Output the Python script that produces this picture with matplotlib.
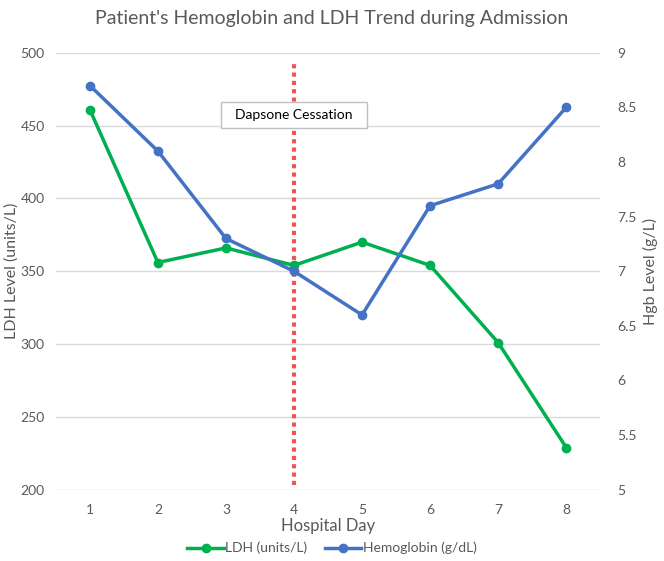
import matplotlib
matplotlib.use("Agg")
import matplotlib.pyplot as plt
from matplotlib.lines import Line2D

plt.rcParams['font.family'] = ['Lato', 'DejaVu Sans']

days = [1, 2, 3, 4, 5, 6, 7, 8]
ldh = [461, 356, 366, 354, 370, 354, 301, 229]
hgb = [8.7, 8.1, 7.3, 7.0, 6.6, 7.6, 7.8, 8.5]
ldh_ticks = [200, 250, 300, 350, 400, 450, 500]
hgb_ticks = [5, 5.5, 6, 6.5, 7, 7.5, 8, 8.5, 9]
hgb_labels = ["5", "5.5", "6", "6.5", "7", "7.5", "8", "8.5", "9"]
cessation_day = 4

GREEN = "#00B050"
BLUE = "#4472C4"
RED = "#EE5555"
TXT = "#595959"
GRID = "#D9D9D9"

fig = plt.figure(figsize=(6.64, 5.61), dpi=100)
ax = fig.add_axes([0.084, 0.127, 0.82, 0.779])
ax2 = ax.twinx()

ax.set_xlim(0.5, 8.5)
ax.set_ylim(200, 500)
ax2.set_ylim(5, 9)

ax.set_yticks(ldh_ticks)
ax.set_xticks(days)
ax2.set_yticks(hgb_ticks)
ax2.set_yticklabels(hgb_labels)

ax.grid(axis='y', color=GRID, linewidth=1)
ax.set_axisbelow(True)
for a in (ax, ax2):
    for s in a.spines.values():
        s.set_visible(False)
    a.tick_params(length=0, labelsize=10, colors=TXT)
ax.tick_params(axis='x', pad=10)
ax.tick_params(axis='y', pad=8)
ax2.tick_params(axis='y', pad=12)

ax.plot(days, ldh, color=GREEN, linewidth=2.5, marker='o', markersize=6, zorder=3)
ax2.plot(days, hgb, color=BLUE, linewidth=2.5, marker='o', markersize=6, zorder=3)

ax.plot([cessation_day, cessation_day], [203, 494], color=RED, linewidth=3,
        linestyle=(0, (1, 1)), zorder=2)

ax.text(cessation_day, 457, "  Dapsone Cessation  ", ha='center', va='center', fontsize=10,
        color='black', zorder=5,
        bbox=dict(boxstyle='square,pad=0.5', facecolor='white', edgecolor='#BFBFBF', linewidth=1))

ax.set_ylabel("LDH Level (units/L)", fontsize=11.5, color=TXT)
ax.yaxis.set_label_coords(-0.068, 0.5)
ax2.set_ylabel("Hgb Level (g/L)", fontsize=11.5, color=TXT)
ax2.yaxis.set_label_coords(1.078, 0.5)
ax.set_xlabel("Hospital Day", fontsize=12, color=TXT, labelpad=2)

fig.suptitle("Patient's Hemoglobin and LDH Trend during Admission", fontsize=14, color=TXT, y=0.982)

handles = [Line2D([], [], color=GREEN, linewidth=2.5, marker='o', markersize=6),
           Line2D([], [], color=BLUE, linewidth=2.5, marker='o', markersize=6)]
fig.legend(handles, ["LDH (units/L)", "Hemoglobin (g/dL)"], loc='center',
           bbox_to_anchor=(0.5, 0.023), ncol=2, frameon=False, fontsize=10,
           labelcolor=TXT, handlelength=2.6, columnspacing=1.3, handletextpad=0.1)

fig.savefig("out.png", dpi=100)
